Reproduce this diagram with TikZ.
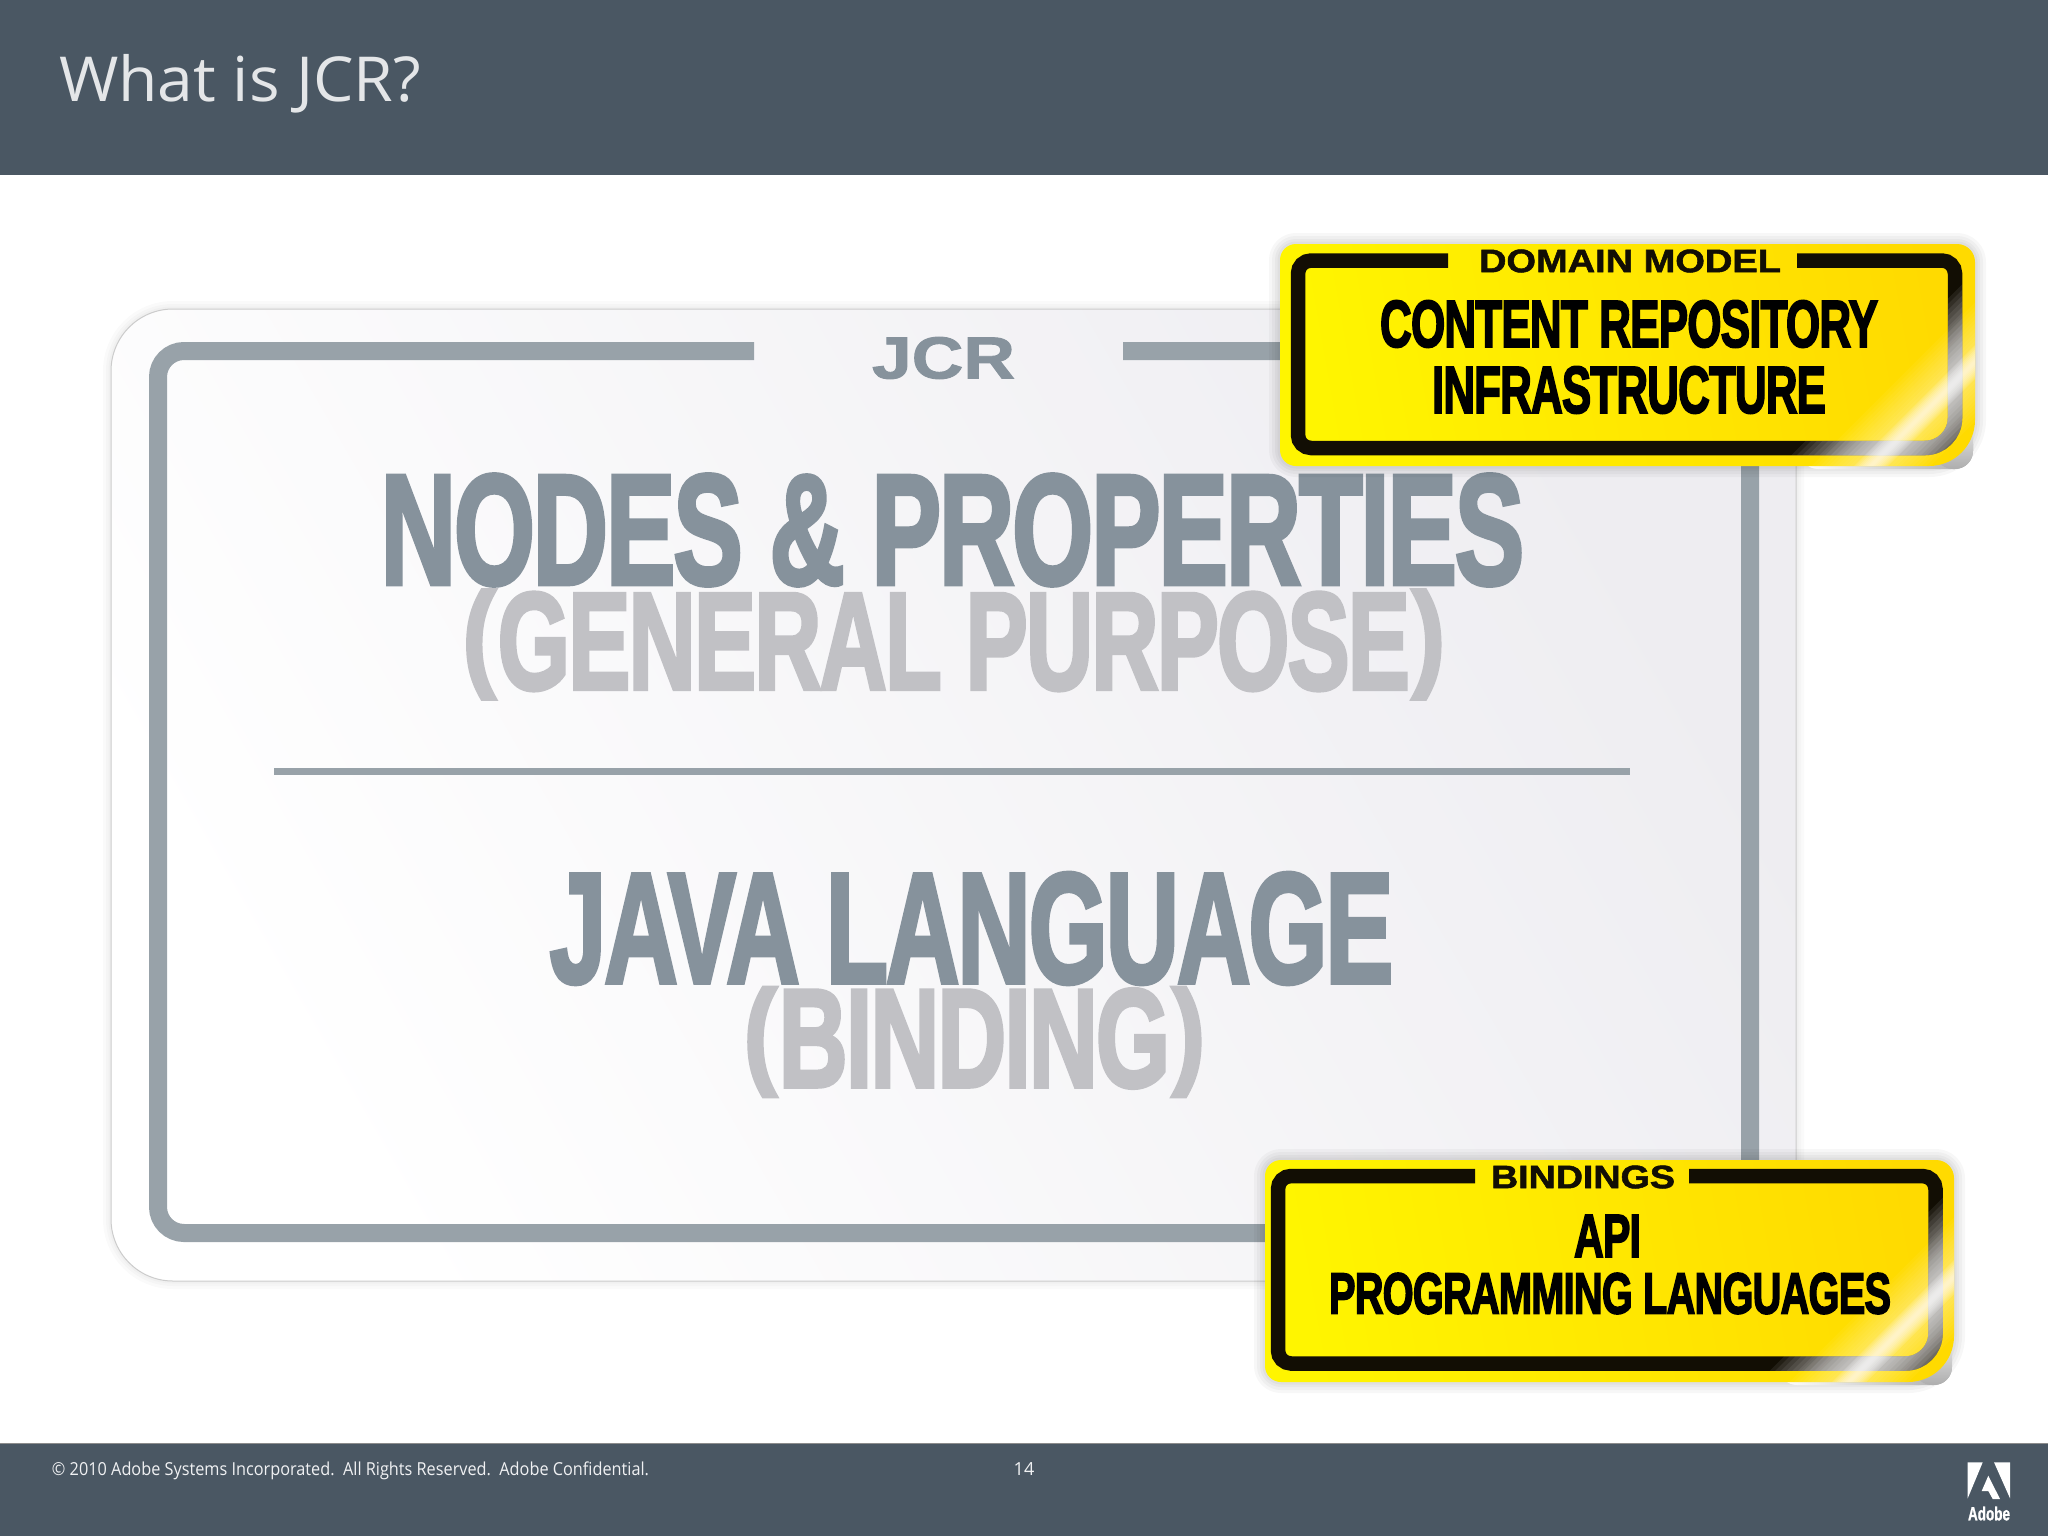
\documentclass[tikz,border=0pt]{standalone}
\usepackage{graphicx}
\usepackage{fontspec}
\setmainfont{Open Sans}
\newfontfamily\condfont[BoldFeatures={FakeBold=3,LetterSpace=-2}]{Liberation Sans}
\newfontfamily\widefont[BoldFeatures={FakeBold=1.5}]{Liberation Sans}
\newcommand\fitcond[3]{\resizebox*{#1pt}{#2pt}{\condfont\bfseries #3}}
\newcommand\fitwide[3]{\resizebox*{#1pt}{#2pt}{\widefont\bfseries #3}}
\newcommand\fitplain[3]{\resizebox*{#1pt}{#2pt}{#3}}
% text in brackets: #1 bracket width, #2 letters width, #3 letters height, #4 text
\newcommand\fitparen[4]{\raisebox{14.4pt}{\fitcond{#1}{109}{(}}\hspace{2pt}\fitcond{#2}{#3}{#4}\hspace{2pt}\raisebox{14.4pt}{\fitcond{#1}{109}{)}}}
\definecolor{barcol}{HTML}{4A5763}
\definecolor{framecol}{HTML}{98A2A9}
\definecolor{headcol}{HTML}{86929C}
\definecolor{subcol}{HTML}{C1C1C5}
\definecolor{yelL}{HTML}{FFF500}
\definecolor{yelR}{HTML}{FFDA00}
\definecolor{inkcol}{HTML}{120E04}
\definecolor{cardend}{HTML}{EEEDF1}
\tikzset{
  txt/.style={inner sep=0pt,outer sep=0pt,anchor=center},
  frameline/.style={draw=framecol,line width=18pt},
  inkline/.style={draw=inkcol,line width=14.5pt},
}
\newcommand\badgeshape[4]{[rounded corners=18pt] (#1,#2) -- (#3,#2) [rounded corners=46pt] -- (#3,#4) [rounded corners=16pt] -- (#1,#4) -- cycle}
\newcommand\badge[4]{%
  \foreach \g in {22,16,10,5}{\draw[black,opacity=.03,line width=\g pt,line join=round] \badgeshape{#1}{#2}{#3}{#4};}
  \shade[left color=white,right color=black!32,rounded corners=18pt] ({#3-175},{#4-40}) rectangle ({#3-2},{#4+3});
  \shade[bottom color=black!32,top color=white,rounded corners=18pt] ({#3-40},{#4-60}) rectangle ({#3-2},{#4+3});
  \shade[left color=yelL,right color=yelR,shading angle=100] \badgeshape{#1}{#2}{#3}{#4};
}
% a diagonal band across the corner: #1 #2 centre, #3 half width
\newcommand\shineband[3]{({#1+.707*(-(#3)-140)},{#2+.707*(-(#3)+140)}) -- ({#1+.707*(-(#3)+140)},{#2+.707*(-(#3)-140)}) -- ({#1+.707*((#3)+140)},{#2+.707*((#3)-140)}) -- ({#1+.707*((#3)-140)},{#2+.707*((#3)+140)}) -- cycle}
% the shine: #1-#4 badge box, #5 #6 streak centre, #7 ink frame path
\newcommand\peel[7]{%
  \begin{scope}
    \clip \badgeshape{#1}{#2}{#3}{#4};
    \foreach \k in {1,...,16}{
      \pgfmathsetmacro\hw{4*\k}
      \begin{scope}
        \clip \shineband{#5}{#6}{\hw};
        \draw[white,opacity=.075,line width=14.5pt] #7;
      \end{scope}
    }
    \foreach \k in {1,...,14}{
      \pgfmathsetmacro\hw{3*\k}
      \fill[white,opacity=.04] \shineband{#5}{#6}{\hw};
    }
    \foreach \k in {1,...,8}{
      \pgfmathsetmacro\hw{1.5*\k}
      \fill[white,opacity=.12] \shineband{#5}{#6}{\hw};
    }
  \end{scope}
}
\newcommand\frameA{[rounded corners=13pt] (1797,260.5) -- (1955,260.5) [rounded corners=30pt] -- (1955,448) [rounded corners=13pt] -- (1298,448) -- (1298,260.5) -- (1448,260.5)}
\newcommand\frameB{[rounded corners=13pt] (1689,1176) -- (1935.5,1176) [rounded corners=30pt] -- (1935.5,1363.5) [rounded corners=13pt] -- (1278,1363.5) -- (1278,1176) -- (1475,1176)}
\begin{document}
\begin{tikzpicture}[x=1pt,y=-1pt]
\useasboundingbox (0,0) rectangle (2048,1536);
\fill[white] (0,0) rectangle (2048,1536);
% bars
\fill[barcol] (0,0) rectangle (2048,175);
\fill[barcol] (0,1443) rectangle (2048,1536);
\draw[black!45,line width=1pt] (0,1443) -- (2048,1443);
\node[txt,anchor=base west,text=white!85!barcol,font=\fontsize{62}{62}\selectfont] (title) at (59,102) {\scalebox{1.035}[1]{What is JCR?}};
\node[txt] (copyr) at (350.5,1470.5) {\textcolor{white!92!barcol}{\fitplain{597}{18}{\fontsize{17}{17}\selectfont © 2010 Adobe Systems Incorporated.\ \ All Rights Reserved.\ \ Adobe Confidential.}}};
\node[txt,text=white!92!barcol,font=\fontsize{18}{18}\selectfont] (pageno) at (1024,1469) {14};
% logo
\fill[white] (1967.7,1462.3) -- (1982.7,1462.3) -- (1967.7,1498.3) -- cycle;
\fill[white] (1994,1462.3) -- (2010,1462.3) -- (2010,1498.3) -- cycle;
\fill[white] (1988.3,1475.7) -- (2000,1499) -- (1992.7,1499) -- (1988.3,1491) -- (1981.7,1491) -- cycle;
\node[txt] (adobe) at (1989,1513.5) {\textcolor{white}{\fitwide{42}{14}{Adobe}}};
% card
\foreach \g in {16,10,5}{\draw[black,opacity=.02,line width=\g pt,rounded corners=62pt] (111,309) rectangle (1796,1281);}
\shade[draw=black!20,line width=1pt,rounded corners=62pt,left color=white,right color=cardend,shading angle=120] (111,309) rectangle (1796,1281);
% frame
\draw[frameline,rounded corners=26pt] (1123,351) -- (1750,351) -- (1750,1233) -- (158,1233) -- (158,351) -- (754,351);
\node[txt] (jcr) at (943.5,358) {\textcolor{headcol}{\fitwide{143}{42}{JCR}}};
\node[txt] (nodes) at (952.5,530) {\textcolor{headcol}{\fitcond{1143}{111}{NODES \& PROPERTIES}}};
\node[txt] (general) at (953.8,644.5) {\textcolor{subcol}{\fitparen{33}{912}{98}{GENERAL PURPOSE}}};
\fill[framecol] (274,767.5) rectangle (1630,775);
\node[txt] (java) at (971.5,928.5) {\textcolor{headcol}{\fitcond{843}{111}{JAVA LANGUAGE}}};
\node[txt] (binding) at (974.4,1042) {\textcolor{subcol}{\fitparen{33}{391}{99}{BINDING}}};
% badge 1
\badge{1280}{244}{1975}{466}
\draw[inkline] \frameA;
\peel{1280}{244}{1975}{466}{1925}{412}{\frameA}
\node[txt] (dm) at (1630,261) {\textcolor{inkcol}{\fitwide{302}{23}{DOMAIN MODEL}}};
\node[txt] (cr) at (1629,324) {\fitcond{498}{47}{CONTENT REPOSITORY}};
\node[txt] (infra) at (1629,390) {\fitcond{394}{47}{INFRASTRUCTURE}};
% badge 2
\badge{1265}{1160}{1954}{1382}
\draw[inkline] \frameB;
\peel{1265}{1160}{1954}{1382}{1904}{1327}{\frameB}
\node[txt] (bd) at (1583,1177) {\textcolor{inkcol}{\fitwide{184}{23}{BINDINGS}}};
\node[txt] (api) at (1607.5,1236) {\fitcond{67}{42}{API}};
\node[txt] (prog) at (1610,1293.5) {\fitcond{562}{41}{PROGRAMMING LANGUAGES}};
\end{tikzpicture}
\end{document}
